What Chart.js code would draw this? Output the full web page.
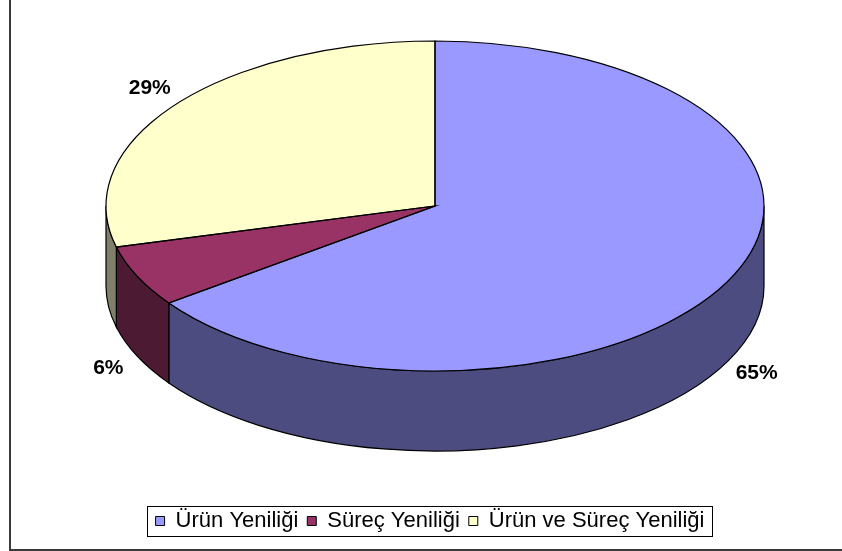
<!DOCTYPE html>
<html>
<head>
<meta charset="utf-8">
<script src="https://cdn.jsdelivr.net/npm/chart.js@4.4.1/dist/chart.umd.min.js"></script>
<style>
  html, body { margin: 0; padding: 0; background: #fff; }
  canvas { display: block; }
</style>
</head>
<body>
<canvas id="yenilikChart" width="842" height="551"></canvas>
<script>
// yenilik türlerinin dağılımı
const kategoriler = ['Ürün Yeniliği', 'Süreç Yeniliği', 'Ürün ve Süreç Yeniliği'];
const paylar = [65, 6, 29];
const ustRenkler = ['#9999FF', '#993366', '#FFFFCC'];
const yanRenkler = ['#4C4C80', '#4D1A33', '#80806A'];

// 3B pasta görünümü: elips merkezi, yarıçaplar ve kalınlık
const PASTA = { cx: 435, cy: 206, rx: 329, ry: 165, derinlik: 80 };
const YAZI = 'Liberation Sans, Arial, sans-serif';

function yanDuvarlar(ctx, arcs) {
    const { cx, cy, rx, ry, derinlik } = PASTA;
    arcs.forEach(function(arc, i) {
        const s = arc.startAngle, e = arc.endAngle;
        [0, 2 * Math.PI].forEach(function(k) {
            const lo = Math.max(s, k), hi = Math.min(e, k + Math.PI);
            if (hi <= lo) return;
            ctx.beginPath();
            ctx.ellipse(cx, cy, rx, ry, 0, lo, hi);
            ctx.ellipse(cx, cy + derinlik, rx, ry, 0, hi, lo, true);
            ctx.closePath();
            ctx.fillStyle = yanRenkler[i];
            ctx.fill();
            ctx.lineWidth = 1.2;
            ctx.strokeStyle = '#000';
            ctx.stroke();
        });
    });
}

const pasta3d = {
    id: 'pasta3d',
    beforeDatasetsDraw(chart) {
        const ctx = chart.ctx;
        const arcs = chart.getDatasetMeta(0).data;
        const r0 = arcs[0].outerRadius;
        yanDuvarlar(ctx, arcs);
        // üst yüzey: dilimleri elipse bastır
        ctx.save();
        ctx.translate(PASTA.cx, PASTA.cy);
        ctx.scale(PASTA.rx / r0, PASTA.ry / r0);
        ctx.translate(-arcs[0].x, -arcs[0].y);
    },
    afterDatasetsDraw(chart) {
        const ctx = chart.ctx;
        ctx.restore();
        const arcs = chart.getDatasetMeta(0).data;
        const { cx, cy, rx, ry, derinlik } = PASTA;
        arcs.forEach(function(arc) {
            ctx.beginPath();
            ctx.moveTo(cx, cy);
            ctx.ellipse(cx, cy, rx, ry, 0, arc.startAngle, arc.endAngle);
            ctx.closePath();
            ctx.lineWidth = 1.2;
            ctx.strokeStyle = '#000';
            ctx.stroke();
        });
        // yüzde etiketleri
        const toplam = paylar.reduce((a, b) => a + b, 0);
        ctx.font = 'bold 21px ' + YAZI;
        ctx.fillStyle = '#000';
        ctx.textAlign = 'center';
        ctx.textBaseline = 'middle';
        arcs.forEach(function(arc, i) {
            const m = (arc.startAngle + arc.endAngle) / 2;
            const sin = Math.sin(m), cos = Math.cos(m);
            const x = cx + (rx + 32) * cos;
            const y = cy + (ry + 28) * sin + (sin > 0 ? derinlik : 0);
            ctx.fillText(Math.round(paylar[i] / toplam * 100) + '%', x, y);
        });
    },
    afterDraw(chart) {
        const ctx = chart.ctx;
        // lejant çerçevesi
        const kutular = chart.legend.legendHitBoxes;
        if (kutular && kutular.length) {
            const sol = Math.min(...kutular.map(b => b.left));
            const sag = Math.max(...kutular.map(b => b.left + b.width));
            const orta = kutular[0].top + kutular[0].height / 2;
            ctx.lineWidth = 1;
            ctx.strokeStyle = '#000';
            ctx.strokeRect(Math.round(sol - 9) + 0.5, Math.round(orta - 15) + 0.5, Math.round(sag - sol + 16), 30);
        }
        // dış çerçeve
        ctx.lineWidth = 2;
        ctx.strokeStyle = '#3a3a3a';
        ctx.beginPath();
        ctx.moveTo(10, 0);
        ctx.lineTo(10, 550);
        ctx.lineTo(842, 550);
        ctx.stroke();
    }
};

var ctx = document.getElementById('yenilikChart').getContext('2d');
var yenilikChart = new Chart(ctx, {
    type: 'pie',
    data: {
        labels: kategoriler,
        datasets: [{
            data: paylar,
            backgroundColor: ustRenkler,
            borderWidth: 0
        }]
    },
    options: {
        responsive: false,
        animation: false,
        events: [],
        layout: { padding: { left: 18, bottom: 9 } },
        plugins: {
            tooltip: { enabled: false },
            legend: {
                position: 'bottom',
                labels: {
                    boxWidth: 9,
                    boxHeight: 9,
                    padding: 9,
                    color: '#000',
                    font: { family: YAZI, size: 22 },
                    generateLabels: function(chart) {
                        const items = Chart.overrides.pie.plugins.legend.labels.generateLabels(chart);
                        return items.map(function(it) {
                            it.strokeStyle = '#000';
                            it.lineWidth = 1;
                            return it;
                        });
                    }
                }
            }
        }
    },
    plugins: [pasta3d]
});
</script>
</body>
</html>
